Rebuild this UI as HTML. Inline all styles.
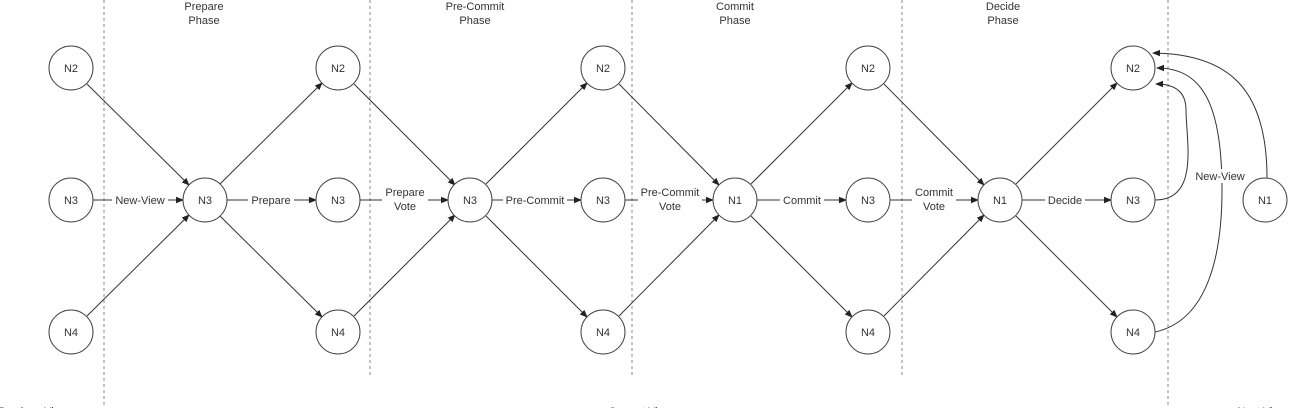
<!DOCTYPE html>
<html><head><meta charset="utf-8"><style>
html,body{margin:0;padding:0;background:#fff;width:1294px;height:408px;overflow:hidden}
svg{display:block}
text{font-family:"Liberation Sans",sans-serif;font-size:11px;fill:#333}
</style></head><body>
<svg width="1294" height="408" viewBox="0 0 1294 408">
<defs><marker id="a" markerWidth="8" markerHeight="8" refX="7" refY="4" orient="auto" markerUnits="userSpaceOnUse"><path d="M0,0.8 L8,4 L0,7.2 Z" fill="#222"/></marker></defs>
<g stroke="#888" stroke-width="1" stroke-dasharray="3,3">
<line x1="104" y1="0" x2="104" y2="408"/>
<line x1="370" y1="0" x2="370" y2="375"/>
<line x1="632" y1="0" x2="632" y2="375"/>
<line x1="902" y1="0" x2="902" y2="375"/>
<line x1="1168" y1="0" x2="1168" y2="408"/>
</g>
<g text-anchor="middle">
<text x="204" y="10">Prepare</text><text x="204" y="24">Phase</text>
<text x="475" y="10">Pre-Commit</text><text x="475" y="24">Phase</text>
<text x="735" y="10">Commit</text><text x="735" y="24">Phase</text>
<text x="1003" y="10">Decide</text><text x="1003" y="24">Phase</text>
<text x="33" y="415">Previous View</text>
<text x="640" y="415">Current View</text>
<text x="1262" y="415">Next View</text>
</g>
<g stroke="#333" stroke-width="1" fill="none" marker-end="url(#a)">
<line x1="87" y1="84" x2="189" y2="185"/>
<line x1="87" y1="316" x2="189" y2="215"/>
<line x1="93" y1="200" x2="183" y2="200"/>
<line x1="227" y1="200" x2="316" y2="200"/>
<line x1="220" y1="184" x2="322" y2="83"/>
<line x1="220" y1="216" x2="322" y2="317"/>
<line x1="354" y1="84" x2="455" y2="185"/>
<line x1="354" y1="316" x2="455" y2="215"/>
<line x1="360" y1="200" x2="448" y2="200"/>
<line x1="492" y1="200" x2="581" y2="200"/>
<line x1="486" y1="184" x2="587" y2="83"/>
<line x1="486" y1="216" x2="587" y2="317"/>
<line x1="619" y1="84" x2="719" y2="185"/>
<line x1="619" y1="316" x2="719" y2="215"/>
<line x1="625" y1="200" x2="713" y2="200"/>
<line x1="757" y1="200" x2="846" y2="200"/>
<line x1="751" y1="184" x2="852" y2="83"/>
<line x1="751" y1="216" x2="852" y2="317"/>
<line x1="884" y1="84" x2="984" y2="185"/>
<line x1="884" y1="316" x2="984" y2="215"/>
<line x1="890" y1="200" x2="978" y2="200"/>
<line x1="1022" y1="200" x2="1111" y2="200"/>
<line x1="1016" y1="184" x2="1117" y2="83"/>
<line x1="1016" y1="216" x2="1117" y2="317"/>
<path d="M1155,200 C1200,200 1186,140 1186,110 C1186,92 1175,84 1156,84"/>
<path d="M1155,332 C1210,320 1222,250 1222,190 C1222,100 1200,68 1157,68"/>
<path d="M1267,178 C1267,90 1230,54 1153,53"/>
</g>
<g fill="#fff" stroke="#444" stroke-width="1">
<circle cx="71" cy="68" r="22"/><circle cx="71" cy="200" r="22"/><circle cx="71" cy="332" r="22"/>
<circle cx="205" cy="200" r="22"/>
<circle cx="338" cy="68" r="22"/><circle cx="338" cy="200" r="22"/><circle cx="338" cy="332" r="22"/>
<circle cx="470" cy="200" r="22"/>
<circle cx="603" cy="68" r="22"/><circle cx="603" cy="200" r="22"/><circle cx="603" cy="332" r="22"/>
<circle cx="735" cy="200" r="22"/>
<circle cx="868" cy="68" r="22"/><circle cx="868" cy="200" r="22"/><circle cx="868" cy="332" r="22"/>
<circle cx="1000" cy="200" r="22"/>
<circle cx="1133" cy="68" r="22"/><circle cx="1133" cy="200" r="22"/><circle cx="1133" cy="332" r="22"/>
<circle cx="1265" cy="200" r="22"/>
</g>
<g text-anchor="middle">
<text x="71" y="72">N2</text><text x="71" y="204">N3</text><text x="71" y="336">N4</text>
<text x="205" y="204">N3</text>
<text x="338" y="72">N2</text><text x="338" y="204">N3</text><text x="338" y="336">N4</text>
<text x="470" y="204">N3</text>
<text x="603" y="72">N2</text><text x="603" y="204">N3</text><text x="603" y="336">N4</text>
<text x="735" y="204">N1</text>
<text x="868" y="72">N2</text><text x="868" y="204">N3</text><text x="868" y="336">N4</text>
<text x="1000" y="204">N1</text>
<text x="1133" y="72">N2</text><text x="1133" y="204">N3</text><text x="1133" y="336">N4</text>
<text x="1265" y="204">N1</text>
</g>
<g text-anchor="middle">
<rect x="112" y="193" width="56" height="14" fill="#fff"/><text x="140" y="204">New-View</text>
<rect x="248" y="193" width="46" height="14" fill="#fff"/><text x="271" y="204">Prepare</text>
<rect x="382" y="186" width="46" height="26" fill="#fff"/><text x="405" y="196">Prepare</text><text x="405" y="210">Vote</text>
<rect x="503" y="193" width="64" height="14" fill="#fff"/><text x="535" y="204">Pre-Commit</text>
<rect x="638" y="186" width="64" height="26" fill="#fff"/><text x="670" y="196">Pre-Commit</text><text x="670" y="210">Vote</text>
<rect x="780" y="193" width="44" height="14" fill="#fff"/><text x="802" y="204">Commit</text>
<rect x="912" y="186" width="44" height="26" fill="#fff"/><text x="934" y="196">Commit</text><text x="934" y="210">Vote</text>
<rect x="1045" y="193" width="40" height="14" fill="#fff"/><text x="1065" y="204">Decide</text>
<rect x="1192" y="169" width="56" height="14" fill="#fff"/><text x="1220" y="180">New-View</text>
</g>
</svg>
</body></html>
